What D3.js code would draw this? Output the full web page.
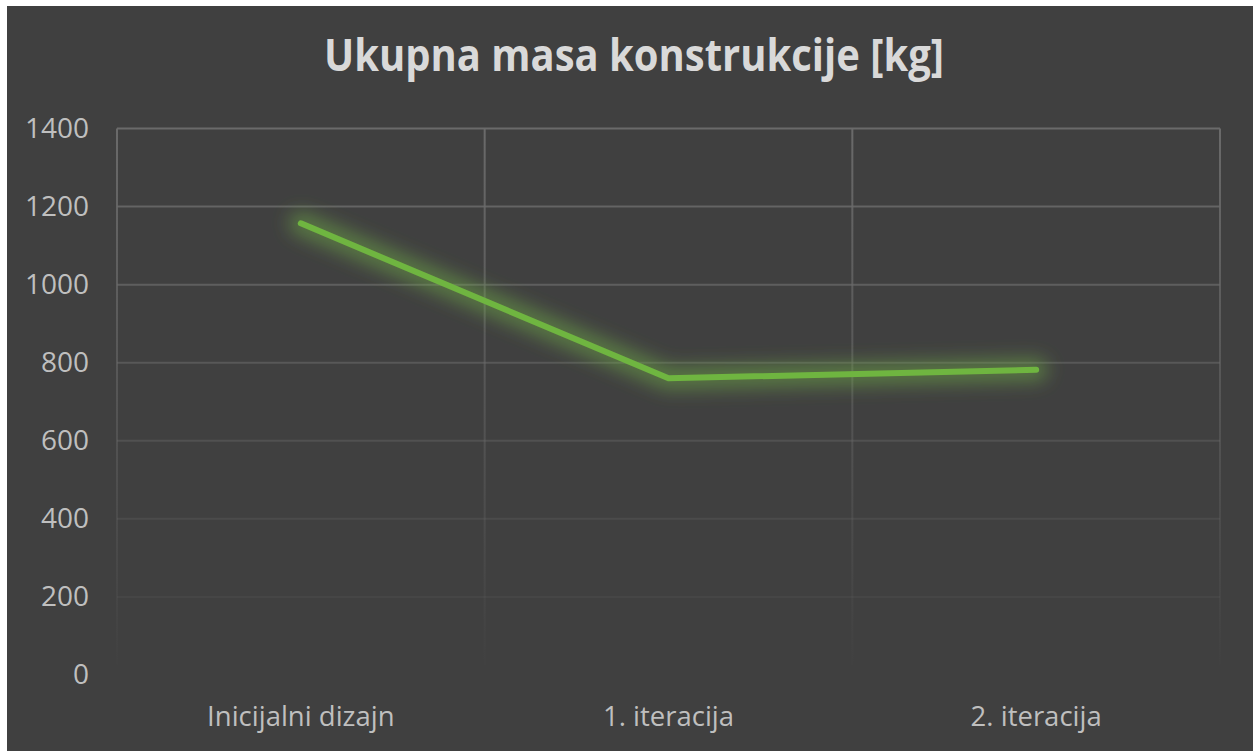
<!DOCTYPE html>
<html>
<head>
<meta charset="utf-8">
<script src="https://cdn.jsdelivr.net/npm/d3@7"></script>
<style>
  html, body { margin: 0; padding: 0; background: #ffffff; }
  svg { display: block; }
</style>
</head>
<body>
<svg id="chart" width="1253" height="751"></svg>
<script>
// Chart data
const categories = ["Inicijalni dizajn", "1. iteracija", "2. iteracija"];
const massValues = [1157, 760, 782];
const yTicks = [0, 200, 400, 600, 800, 1000, 1200, 1400];
const titleText = "Ukupna masa konstrukcije [kg]";

const W = 1253, H = 751;
const plot = { left: 117, right: 1220, top: 128.5, bottom: 675 };

const svg = d3.select("#chart");
const defs = svg.append("defs");

// Dark chart area with a thin white frame on the top/left
svg.append("rect")
  .attr("x", 7).attr("y", 6)
  .attr("width", W - 7).attr("height", H - 6)
  .attr("fill", "#404040");

const x = d3.scaleBand().domain(categories).range([plot.left, plot.right]).padding(0);
const y = d3.scaleLinear().domain([0, 1400]).range([plot.bottom, plot.top]);

// Gridlines fade out towards the bottom of the plot
const gridGrad = defs.append("linearGradient")
  .attr("id", "gridFade")
  .attr("gradientUnits", "userSpaceOnUse")
  .attr("x1", 0).attr("x2", 0)
  .attr("y1", plot.top).attr("y2", plot.bottom);
gridGrad.append("stop").attr("offset", 0).attr("stop-color", "#6a6a6a").attr("stop-opacity", 1);
gridGrad.append("stop").attr("offset", 1).attr("stop-color", "#6a6a6a").attr("stop-opacity", 0);

const fadeOpacity = d3.scaleLinear().domain([plot.top, plot.bottom]).range([1, 0]);

const grid = svg.append("g");
grid.selectAll("line.h")
  .data(yTicks)
  .join("line")
  .attr("class", "h")
  .attr("x1", plot.left).attr("x2", plot.right)
  .attr("y1", d => y(d)).attr("y2", d => y(d))
  .attr("stroke", "#6a6a6a")
  .attr("stroke-width", 2)
  .attr("stroke-opacity", d => fadeOpacity(y(d)));

const vPositions = categories.map(c => x(c)).concat([x(categories[categories.length - 1]) + x.bandwidth()]);
grid.selectAll("rect.v")
  .data(vPositions)
  .join("rect")
  .attr("class", "v")
  .attr("x", d => d - 1).attr("width", 2)
  .attr("y", plot.top).attr("height", plot.bottom - plot.top - 10)
  .attr("fill", "url(#gridFade)");

// Y axis labels
const yAxis = svg.append("g")
  .attr("transform", `translate(${plot.left - 28},0)`)
  .call(d3.axisLeft(y).tickValues(yTicks).tickSize(0).tickPadding(0).tickFormat(d3.format("d")));
yAxis.select(".domain").remove();
yAxis.selectAll("text")
  .attr("fill", "#bfbfbf")
  .attr("font-family", "'Open Sans', sans-serif")
  .attr("font-size", 28);

// X axis labels
const xAxis = svg.append("g")
  .attr("transform", `translate(0,${plot.bottom + 31})`)
  .call(d3.axisBottom(x).tickSize(0).tickPadding(0));
xAxis.select(".domain").remove();
xAxis.selectAll("text")
  .attr("fill", "#bfbfbf")
  .attr("font-family", "'Open Sans', sans-serif")
  .attr("font-size", 27.5);

// Glow behind the series line
const glow = defs.append("filter")
  .attr("id", "glow")
  .attr("x", "-20%").attr("y", "-60%")
  .attr("width", "140%").attr("height", "220%");
glow.append("feGaussianBlur").attr("stdDeviation", 9);

const line = d3.line()
  .x((d, i) => x(categories[i]) + x.bandwidth() / 2)
  .y(d => y(d));

svg.append("path")
  .datum(massValues)
  .attr("d", line)
  .attr("fill", "none")
  .attr("stroke", "#70ad47")
  .attr("stroke-width", 24)
  .attr("stroke-opacity", 0.5)
  .attr("stroke-linejoin", "round")
  .attr("stroke-linecap", "round")
  .attr("filter", "url(#glow)");

svg.append("path")
  .datum(massValues)
  .attr("d", line)
  .attr("fill", "none")
  .attr("stroke", "#6fb540")
  .attr("stroke-width", 6)
  .attr("stroke-linejoin", "miter")
  .attr("stroke-linecap", "round");

// Title
svg.append("text")
  .attr("x", 634)
  .attr("y", 71)
  .attr("text-anchor", "middle")
  .attr("fill", "#d9d9d9")
  .attr("font-family", "'Open Sans', sans-serif")
  .attr("font-weight", "bold")
  .attr("font-size", 45)
  .attr("textLength", 620)
  .attr("lengthAdjust", "spacingAndGlyphs")
  .text(titleText);
</script>
</body>
</html>
